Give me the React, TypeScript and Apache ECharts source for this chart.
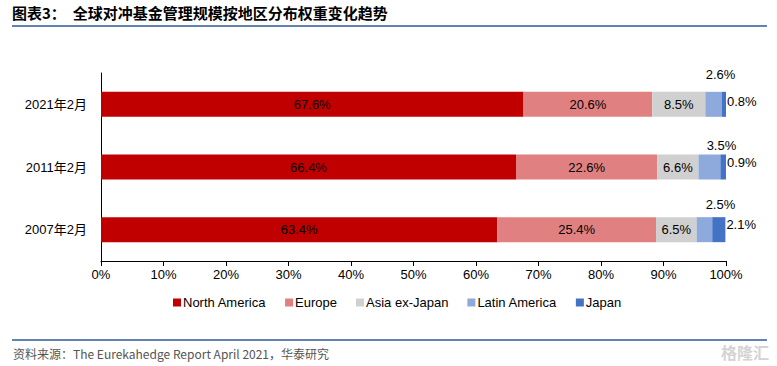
import React, { useEffect, useRef } from "react";
import * as echarts from "echarts";

const categories = ["2007年2月", "2011年2月", "2021年2月"];
const seriesNames = ["North America", "Europe", "Asia ex-Japan", "Latin America", "Japan"];
const northAmerica = [63.4, 66.4, 67.6];
const europe = [25.4, 22.6, 20.6];
const asiaExJapan = [6.5, 6.6, 8.5];
const latinAmerica = [2.5, 3.5, 2.6];
const japan = [2.1, 0.9, 0.8];
const xTicks = [0, 10, 20, 30, 40, 50, 60, 70, 80, 90, 100];

const colors = ["#C00000", "#E08080", "#D0D0D0", "#8EA9DB", "#4472C4"];
const latinLabelOffsets = [[16, -1], [12, 2], [7, -6]];
const japanLabelOffsets = [[0, -5], [0, -5], [0, -3]];

const FONT = "'Liberation Sans', Arial, 'Noto Sans CJK SC', sans-serif";

export default function App() {
  const ref = useRef<HTMLDivElement>(null);
  useEffect(() => {
    const chart = echarts.init(ref.current!, null, { renderer: "svg" });
    const values = [northAmerica, europe, asiaExJapan, latinAmerica, japan];
    const series = values.map((vals, i) => {
      const data = vals.map((v, j) => {
        if (i === 3) {
          return { value: v, label: { offset: latinLabelOffsets[j] } };
        }
        if (i === 4) {
          return { value: v, label: { offset: japanLabelOffsets[j] } };
        }
        return v;
      });
      return {
        name: seriesNames[i],
        type: "bar",
        stack: "total",
        barWidth: 25,
        itemStyle: { color: colors[i] },
        data,
        label: {
          show: true,
          position: i === 3 ? "top" : i === 4 ? "right" : "inside",
          distance: i === 3 ? 5 : 1,
          color: "#000",
          fontSize: 13,
          fontFamily: FONT,
          formatter: (p: any) => p.value.toFixed(1) + "%",
        },
      };
    });
    chart.setOption({
      animation: false,
      textStyle: { fontFamily: FONT },
      grid: { left: 101, right: 51, top: 73, bottom: 105 },
      legend: {
        left: 168,
        top: 291,
        itemWidth: 8,
        itemHeight: 8,
        itemGap: 19,
        icon: "rect",
        textStyle: { fontSize: 13, color: "#000", fontFamily: FONT, padding: [0, 0, 0, -3] },
        data: seriesNames,
      },
      xAxis: {
        type: "value",
        min: 0,
        max: 100,
        interval: 10,
        axisLine: { show: true, lineStyle: { color: "#000", width: 1 } },
        axisTick: { show: true, length: 5, lineStyle: { color: "#000" } },
        splitLine: { show: false },
        axisLabel: {
          color: "#000",
          fontSize: 13,
          margin: 7,
          formatter: (v: number) => (xTicks.includes(v) ? v + "%" : ""),
        },
      },
      yAxis: {
        type: "category",
        data: categories,
        axisLine: { show: true, lineStyle: { color: "#000", width: 1 } },
        axisTick: { show: false },
        axisLabel: { color: "#000", fontSize: 13, margin: 14 },
      },
      graphic: [
        {
          type: "text",
          left: 12,
          top: 5,
          style: {
            text: "图表3：  全球对冲基金管理规模按地区分布权重变化趋势",
            font: "bold 15px 'Noto Sans CJK SC', sans-serif",
            fill: "#000",
          },
        },
        {
          type: "line",
          shape: { x1: 12, y1: 26, x2: 767, y2: 26 },
          style: { stroke: "#6283B0", lineWidth: 2 },
        },
        {
          type: "line",
          shape: { x1: 12, y1: 340, x2: 767, y2: 340 },
          style: { stroke: "#6283B0", lineWidth: 2 },
        },
        {
          type: "text",
          left: 13,
          top: 347,
          style: {
            text: "资料来源：The Eurekahedge Report April 2021，华泰研究",
            font: "12px 'Liberation Sans Narrow', 'Noto Sans CJK SC', sans-serif",
            fill: "#555",
          },
        },
        {
          type: "text",
          right: 8,
          top: 344,
          style: {
            text: "格隆汇",
            font: "bold 16px 'Noto Sans CJK SC', sans-serif",
            fill: "#d4d4d4",
          },
        },
      ],
      series,
    });
    return () => chart.dispose();
  }, []);
  return (
    <div
      ref={ref}
      style={{ position: "absolute", left: 0, top: 0, width: 777, height: 366, background: "#fff" }}
    />
  );
}
